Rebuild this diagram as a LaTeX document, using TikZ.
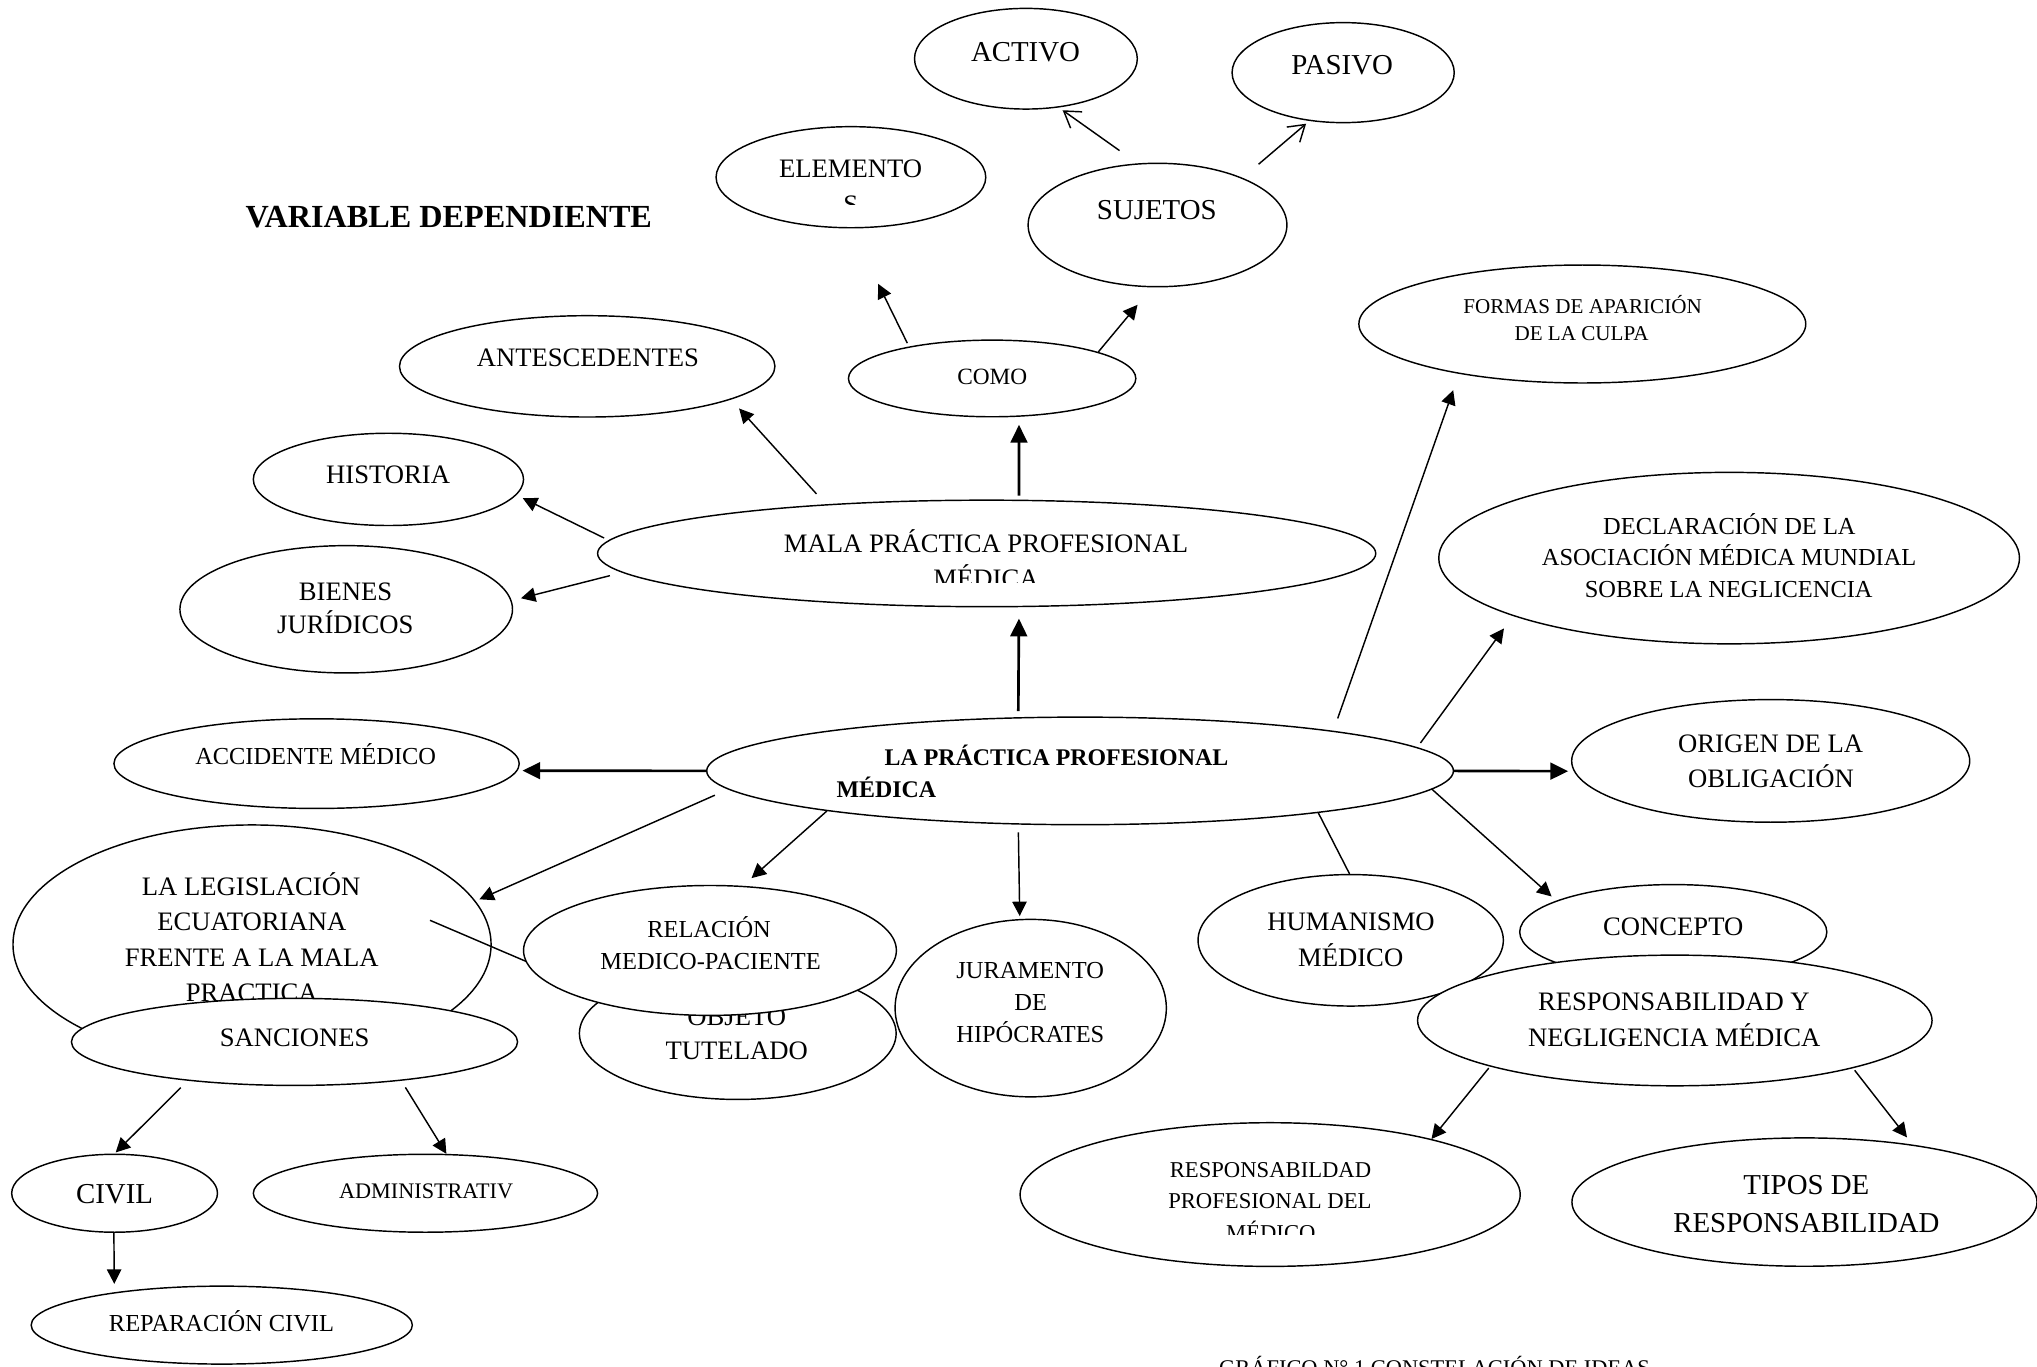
\documentclass[tikz,border=0pt]{standalone}
\usepackage{fontspec}
\setmainfont{Liberation Serif}
\usetikzlibrary{shapes.geometric,arrows.meta}
\begin{document}
\begin{tikzpicture}[x=0.585pt,y=-0.585pt,
  el/.style 2 args={draw, ellipse, fill=white, line width=0.65pt,
    minimum width=#1*0.585pt, minimum height=#2*0.585pt, inner sep=0pt},
  txt/.style={anchor=base, inner sep=0pt, outer sep=0pt},
  fs/.style={font=\fontsize{#1}{#1}\selectfont},
  fsb/.style={font=\fontsize{#1}{#1}\selectfont\bfseries},
  ln/.style={line width=0.65pt},
  arr/.style={line width=0.65pt, -{Triangle[length=6.5pt,width=6.5pt]}},
  arrthick/.style={line width=1.2pt, -{Triangle[length=8pt,width=7.5pt]}},
  arrop/.style={line width=0.65pt, -{Straight Barb[length=7pt,width=9pt]}}
]
\useasboundingbox (0,0) rectangle (1568,1052);
\clip (0,0) rectangle (1568,1052);

\node[txt,fsb=14.5,anchor=base west] (title) at (189,175) {VARIABLE DEPENDIENTE};

% top group
\node[el={171.5}{77.5}] (activo) at (789.7,45.2) {};
\node[txt,fs=13] (activo-t) at (789.4,47) {ACTIVO};
\node[el={171}{77}] (pasivo) at (1033.9,55.9) {};
\node[txt,fs=13] (pasivo-t) at (1033.1,57.7) {PASIVO};
\node[el={199.2}{95}] (sujetos) at (891,173.2) {};
\node[txt,fs=13] (sujetos-t) at (890.5,168.6) {SUJETOS};
\node[el={207.6}{77.8}] (elem) at (655,136.4) {};
\node[txt,fs=12] (elem-t) at (654.8,136.8) {ELEMENTO};
\begin{scope}
  \clip (560,140) rectangle (750,157.5);
  \node[txt,fs=12] (elem-t2) at (654.8,164.2) {S};
\end{scope}
\node[el={221.2}{59}] (como) at (763.7,291.3) {};
\node[txt,fs=10.5] (como-t) at (763.8,296) {COMO};
\node[el={289}{78}] (antes) at (452,282) {};
\node[txt,fs=12] (antes-t) at (452.5,282) {ANTESCEDENTES};
\node[el={344}{90.8}] (formas) at (1218,249.4) {};
\node[txt,fs=9.5] (formas-t1) at (1218.2,241.2) {FORMAS DE APARICIÓN};
\node[txt,fs=9.5] (formas-t2) at (1217.4,262.3) {DE LA CULPA};
\node[el={208}{71}] (historia) at (299,369) {};
\node[txt,fs=12] (historia-t) at (298.8,372) {HISTORIA};
\node[el={599}{82}] (mala) at (759.5,426) {};
\node[txt,fs=12] (mala-t1) at (759,425.5) {MALA PRÁCTICA PROFESIONAL};
\begin{scope}
  \clip (600,430) rectangle (920,448);
  \node[txt,fs=12] (mala-t2) at (759,452.5) {MÉDICA};
\end{scope}
\node[el={256}{98}] (bienes) at (266.5,469) {};
\node[txt,fs=12] (bienes-t1) at (266,462.3) {BIENES};
\node[txt,fs=12] (bienes-t2) at (265.8,487.4) {JURÍDICOS};
\node[el={447}{132}] (decl) at (1331,429.6) {};
\node[txt,fs=11] (decl-t1) at (1331.2,411.4) {DECLARACIÓN DE LA};
\node[txt,fs=11] (decl-t2) at (1331,435.5) {ASOCIACIÓN MÉDICA MUNDIAL};
\node[txt,fs=11] (decl-t3) at (1330.7,459.6) {SOBRE LA NEGLICENCIA};

% centre row
\node[el={312}{69}] (acc) at (243.7,587.8) {};
\node[txt,fs=11] (acc-t) at (243,588.8) {ACCIDENTE MÉDICO};
\node[el={574.8}{82.8}] (prac) at (831.4,593.4) {};
\node[txt,fsb=10.75,anchor=base west] (prac-t1) at (681,589.5) {LA PRÁCTICA PROFESIONAL};
\node[txt,fsb=10.75,anchor=base west] (prac-t2) at (644,613.6) {MÉDICA};
\node[el={306.4}{94.4}] (origen) at (1363,585.7) {};
\node[txt,fs=12] (origen-t1) at (1363,579.4) {ORIGEN DE LA};
\node[txt,fs=12] (origen-t2) at (1363.2,606.2) {OBLIGACIÓN};

% lower left
\node[el={368}{184}] (legis) at (194,727) {};
\node[txt,fs=12] (legis-t1) at (193.3,689.3) {LA LEGISLACIÓN};
\node[txt,fs=12] (legis-t2) at (193.8,716.1) {ECUATORIANA};
\node[txt,fs=12] (legis-t3) at (193.8,743.6) {FRENTE A LA MALA};
\node[txt,fs=12] (legis-t4) at (193.8,770.8) {PRACTICA};
\coordinate (legline) at (331,708.4);
\node[el={243.8}{101.6}] (objeto) at (567.9,795.5) {};
\node[txt,fs=12] (objeto-t1) at (567.1,789.1) {OBJETO};
\node[txt,fs=12] (objeto-t2) at (567.1,815.3) {TUTELADO};
\draw[ln] (legline) -- (objeto.164.5);
\node[el={287}{100}] (relac) at (546.5,731.6) {};
\node[txt,fs=11] (relac-t1) at (545.8,721.9) {RELACIÓN};
\node[txt,fs=11] (relac-t2) at (547,746.2) {MEDICO-PACIENTE};
\node[el={208.8}{136.6}] (juram) at (793.4,776) {};
\node[txt,fs=11] (juram-t1) at (793,753.2) {JURAMENTO};
\node[txt,fs=11] (juram-t2) at (793.4,778) {DE};
\node[txt,fs=11] (juram-t3) at (793.1,802.7) {HIPÓCRATES};
\node[el={343.4}{67}] (sanc) at (226.7,802) {};
\node[txt,fs=12] (sanc-t) at (226.8,805.5) {SANCIONES};
\node[el={158.4}{60}] (civil) at (88.2,918.5) {};
\node[txt,fs=13] (civil-t) at (88.2,926.1) {CIVIL};
\node[el={265}{60}] (admin) at (327.5,918.5) {};
\node[txt,fs=10] (admin-t) at (328,922.8) {ADMINISTRATIV};
\node[el={293.4}{60}] (repar) at (170.7,1020) {};
\node[txt,fs=11] (repar-t) at (170.5,1025) {REPARACIÓN CIVIL};

% lower right
\node[el={235}{101.2}] (human) at (1039.7,723.8) {};
\node[txt,fs=12] (human-t1) at (1040,716) {HUMANISMO};
\node[txt,fs=12] (human-t2) at (1039.7,743.6) {MÉDICO};
\node[el={236.4}{73}] (concepto) at (1288,717.4) {};
\node[txt,fs=12] (concepto-t) at (1288,720.1) {CONCEPTO};
\node[el={396}{100.6}] (resp) at (1289.2,785.5) {};
\node[txt,fs=12] (resp-t1) at (1288.5,777.7) {RESPONSABILIDAD Y};
\node[txt,fs=12] (resp-t2) at (1288.7,805.5) {NEGLIGENCIA MÉDICA};
\node[el={385}{110.6}] (respb) at (977.7,919.5) {};
\node[txt,fs=10.2] (respb-t1) at (978,906.7) {RESPONSABILDAD};
\node[txt,fs=10.2] (respb-t2) at (977.5,930.5) {PROFESIONAL DEL};
\begin{scope}
  \clip (900,935) rectangle (1060,950.6);
  \node[txt,fs=10.2] (respb-t3) at (978.2,954.5) {MÉDICO};
\end{scope}
\node[el={358}{98.8}] (tipos) at (1389,925.3) {};
\node[txt,fs=13] (tipos-t1) at (1390.5,919.4) {TIPOS DE};
\node[txt,fs=13] (tipos-t2) at (1390.5,948.9) {RESPONSABILIDAD};

\node[txt,fs=10.1,anchor=base west] (caption) at (938.5,1058.5) {GRÁFICO N° 1 CONSTELACIÓN DE IDEAS};

% connectors
\draw[arrthick, shorten <=1.8pt, shorten >=3.6pt] (mala.59.05) -- (como.-55);
\draw[arrthick, shorten <=2.7pt, shorten >=5.1pt] (prac.139.3) -- (mala.-59.05);
\draw[arr, shorten <=3.5pt, shorten >=1.3pt] (prac.221.1) -- (juram.97.4);
\draw[arr, shorten <=6.3pt, shorten >=5.4pt] (mala.163.5) -- (antes.-13.8);
\draw[arr, shorten <=2.3pt, shorten >=3.2pt] (mala.178.8) -- (historia.-7.9);
\draw[arr, shorten <=5.7pt, shorten >=4.3pt] (mala.183.8) -- (bienes.3.7);
\draw[arrthick, shorten >=2.2pt] (prac.180.3) -- (acc.-2.74);
\draw[arrthick, shorten >=2.5pt] (prac.-0.34) -- (origen.183.6);
\draw[arr, shorten <=6.5pt, shorten >=1.9pt] (prac.183) -- (legis.11.9);
\draw[arr, shorten >=5.2pt] (prac.189.2) -- (relac.63.8);
\draw[arr, shorten <=5.9pt, shorten >=7.8pt] (prac.9.68) -- (formas.-158.1);
\draw[arr, shorten <=2.4pt, shorten >=6.9pt] (prac.4.8) -- (decl.-165.3);
\draw[ln] (prac.-10) -- (human.91.1);
\draw[arr, shorten >=2.8pt] (prac.-3.8) -- (concepto.165);
\draw[arr, shorten <=4.4pt, shorten >=0.7pt] (sanc.-160.8) -- (civil.90);
\draw[arr, shorten <=3.5pt] (sanc.-20.8) -- (admin.62.8);
\draw[arr, shorten >=3.8pt] (civil.-91.3) -- (repar.163.5);
\draw[arr, shorten <=0.9pt] (resp.194.4) -- (respb.19.5);
\draw[arr, shorten <=1.2pt, shorten >=4.1pt] (resp.-15.4) -- (tipos.28.4);
\draw[arr, shorten <=1.7pt, shorten >=27.8pt] (como.159.2) -- (elem.-90);
\draw[arr, shorten >=10.2pt] (como.14.1) -- (sujetos.-95.2);
\draw[arrop, shorten <=9.9pt, shorten >=2.1pt] (sujetos.108.5) -- (activo.-56.4);
\draw[arrop, shorten <=9.4pt, shorten >=1.9pt] (sujetos.29.3) -- (pasivo.-125.3);
\end{tikzpicture}
\end{document}
